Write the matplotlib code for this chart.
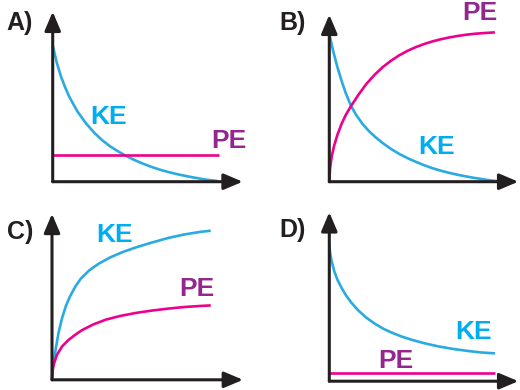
import matplotlib
matplotlib.use("Agg")
import matplotlib.pyplot as plt

W, H = 520, 390
KE_LINE = "#29ABE2"
KE_TEXT = "#00AEEF"
PE_LINE = "#EC008C"
PE_TEXT = "#93278F"
AXC = "#231F20"

# ---- data (energy vs. time, arbitrary units) ----
a_ke_x = [0, 0.25, 0.5, 0.75, 1, 1.5, 2, 2.5, 3, 3.5, 4, 4.5, 5, 5.5, 6, 6.5, 7, 7.5, 8, 8.5, 9, 9.5, 10]
a_ke_y = [10.1, 8.8, 7.8, 7.0, 6.3, 5.2, 4.35, 3.65, 3.07, 2.6, 2.22, 1.88, 1.58, 1.32, 1.09, 0.89, 0.72, 0.57, 0.44, 0.32, 0.21, 0.12, 0.05]
a_pe_x = [0, 10.05]
a_pe_y = [2.0, 2.0]

b_pe_x = [0, 0.05, 0.15, 0.3, 0.5, 0.75, 1.0, 1.32, 1.75, 2.25, 2.77, 3.25, 3.75, 4.25, 4.75, 5.25, 5.75,
          6.25, 6.75, 7.25, 7.75, 8.25, 8.75, 9.25, 9.75, 10.04]
b_pe_y = [0, 1.0, 1.9, 2.7, 3.5, 4.3, 4.95, 5.61, 6.41, 7.25, 7.95, 8.5, 8.97, 9.37, 9.7, 9.97, 10.2,
          10.39, 10.55, 10.68, 10.79, 10.88, 10.95, 11.0, 11.04, 11.06]
b_ke_x = [0, 0.1, 0.25, 0.5, 0.75, 1.0, 1.32, 1.6, 2.0, 2.4, 2.77, 3.25, 3.75, 4.25, 4.75, 5.25, 5.75,
          6.25, 6.75, 7.25, 7.75, 8.25, 8.75, 9.25, 9.75, 10.25, 10.45]
b_ke_y = [11.0, 10.4, 9.6, 8.45, 7.45, 6.55, 5.61, 5.0, 4.3, 3.75, 3.33, 2.85, 2.42, 2.05, 1.74, 1.47, 1.22,
          1.0, 0.82, 0.66, 0.52, 0.4, 0.29, 0.19, 0.1, 0.03, 0.0]

c_ke_x = [0, 0.05, 0.2, 0.4, 0.61, 0.85, 1.1, 1.41, 1.75, 2.25, 2.83, 3.5, 4.25, 5.07, 6.0, 7.09, 8.0, 9.0, 9.62]
c_ke_y = [0, 1.0, 2.1, 3.5, 4.57, 5.5, 6.2, 6.9, 7.5, 8.1, 8.6, 9.05, 9.45, 9.8, 10.15, 10.52, 10.76, 10.96, 11.04]
c_pe_x = [0, 0.03, 0.1, 0.3, 0.61, 1.0, 1.4, 1.82, 2.5, 3.25, 4.1, 5.07, 6.0, 7.09, 8.0, 9.0, 9.62]
c_pe_y = [0, 0.6, 1.11, 1.85, 2.47, 2.95, 3.33, 3.68, 4.1, 4.45, 4.72, 4.95, 5.12, 5.28, 5.39, 5.47, 5.51]

d_ke_x = [0, 0.05, 0.15, 0.3, 0.5, 0.75, 1.0, 1.35, 1.76, 2.25, 2.77, 3.25, 3.78, 4.4, 5.1, 5.8, 6.6,
          7.5, 8.4, 9.2, 10.04]
d_ke_y = [10.1, 9.5, 8.85, 8.15, 7.5, 6.9, 6.38, 5.8, 5.24, 4.7, 4.25, 3.9, 3.6, 3.3, 3.03, 2.8, 2.58,
          2.39, 2.24, 2.13, 2.06]
d_pe_x = [0, 10.05]
d_pe_y = [0.6, 0.6]

panel_letters = ["A)", "B)", "C)", "D)"]

# ---- layout (pixels) ----
XU, YU = 16.5, 13.5  # pixels per data unit
boxes = {  # left, bottom(y from top), width, height of axis arrows
    "A": (52.7, 181.7, 190, 170),
    "B": (329.3, 181.7, 189, 167),
    "C": (52.0, 379.8, 191, 166),
    "D": (329.3, 381.2, 189, 169),
}

fig = plt.figure(figsize=(W / 100, H / 100), dpi=100)
fig.patch.set_facecolor("white")


def px(x, y):
    return x / W, 1 - y / H


def make_ax(key):
    l, b, w, h = boxes[key]
    ax = fig.add_axes([l / W, 1 - b / H, w / W, h / H])
    ax.set_xlim(0, w / XU)
    ax.set_ylim(0, h / YU)
    ax.axis("off")
    ax.patch.set_alpha(0)
    for (x0, y0, x1, y1) in [(0, 0, 1, 0), (0, 0, 0, 1)]:
        ax.annotate("", xy=(x1, y1), xytext=(x0, y0), xycoords="axes fraction",
                    textcoords="axes fraction",
                    arrowprops=dict(arrowstyle="-|>,head_length=0.85,head_width=0.36",
                                    lw=2.2, color=AXC, mutation_scale=13.5,
                                    shrinkA=0, shrinkB=0), annotation_clip=False)
    return ax


lw = 1.9
style = dict(lw=lw, solid_capstyle="butt", solid_joinstyle="round", clip_on=False)
axA = make_ax("A")
axA.plot(a_ke_x, a_ke_y, color=KE_LINE, **style)
axA.plot(a_pe_x, a_pe_y, color=PE_LINE, **style)

axB = make_ax("B")
axB.plot(b_ke_x, b_ke_y, color=KE_LINE, **style)
axB.plot(b_pe_x, b_pe_y, color=PE_LINE, **style)

axC = make_ax("C")
axC.plot(c_ke_x, c_ke_y, color=KE_LINE, **style)
axC.plot(c_pe_x, c_pe_y, color=PE_LINE, **style)

axD = make_ax("D")
axD.plot(d_ke_x, d_ke_y, color=KE_LINE, **style)
axD.plot(d_pe_x, d_pe_y, color=PE_LINE, **style)

font = dict(family=["Liberation Sans", "DejaVu Sans"], fontweight="bold",
            ha="center", va="center")
fs = 19
letter_pos = [(20, 23), (293, 23), (20, 232), (293, 230)]
for t, (x, y) in zip(panel_letters, letter_pos):
    fig.text(*px(x, y), t, color=AXC, fontsize=18, **font)

labels = [("KE", 109, 117, KE_TEXT), ("PE", 229, 141, PE_TEXT),
          ("PE", 480, 13, PE_TEXT), ("KE", 437, 147, KE_TEXT),
          ("KE", 115, 235, KE_TEXT), ("PE", 197, 289, PE_TEXT),
          ("KE", 474, 332, KE_TEXT), ("PE", 396, 361, PE_TEXT)]
for t, x, y, c in labels:
    fig.text(*px(x, y), t, color=c, fontsize=fs, **font)

fig.savefig("out.png", dpi=100, facecolor="white")
